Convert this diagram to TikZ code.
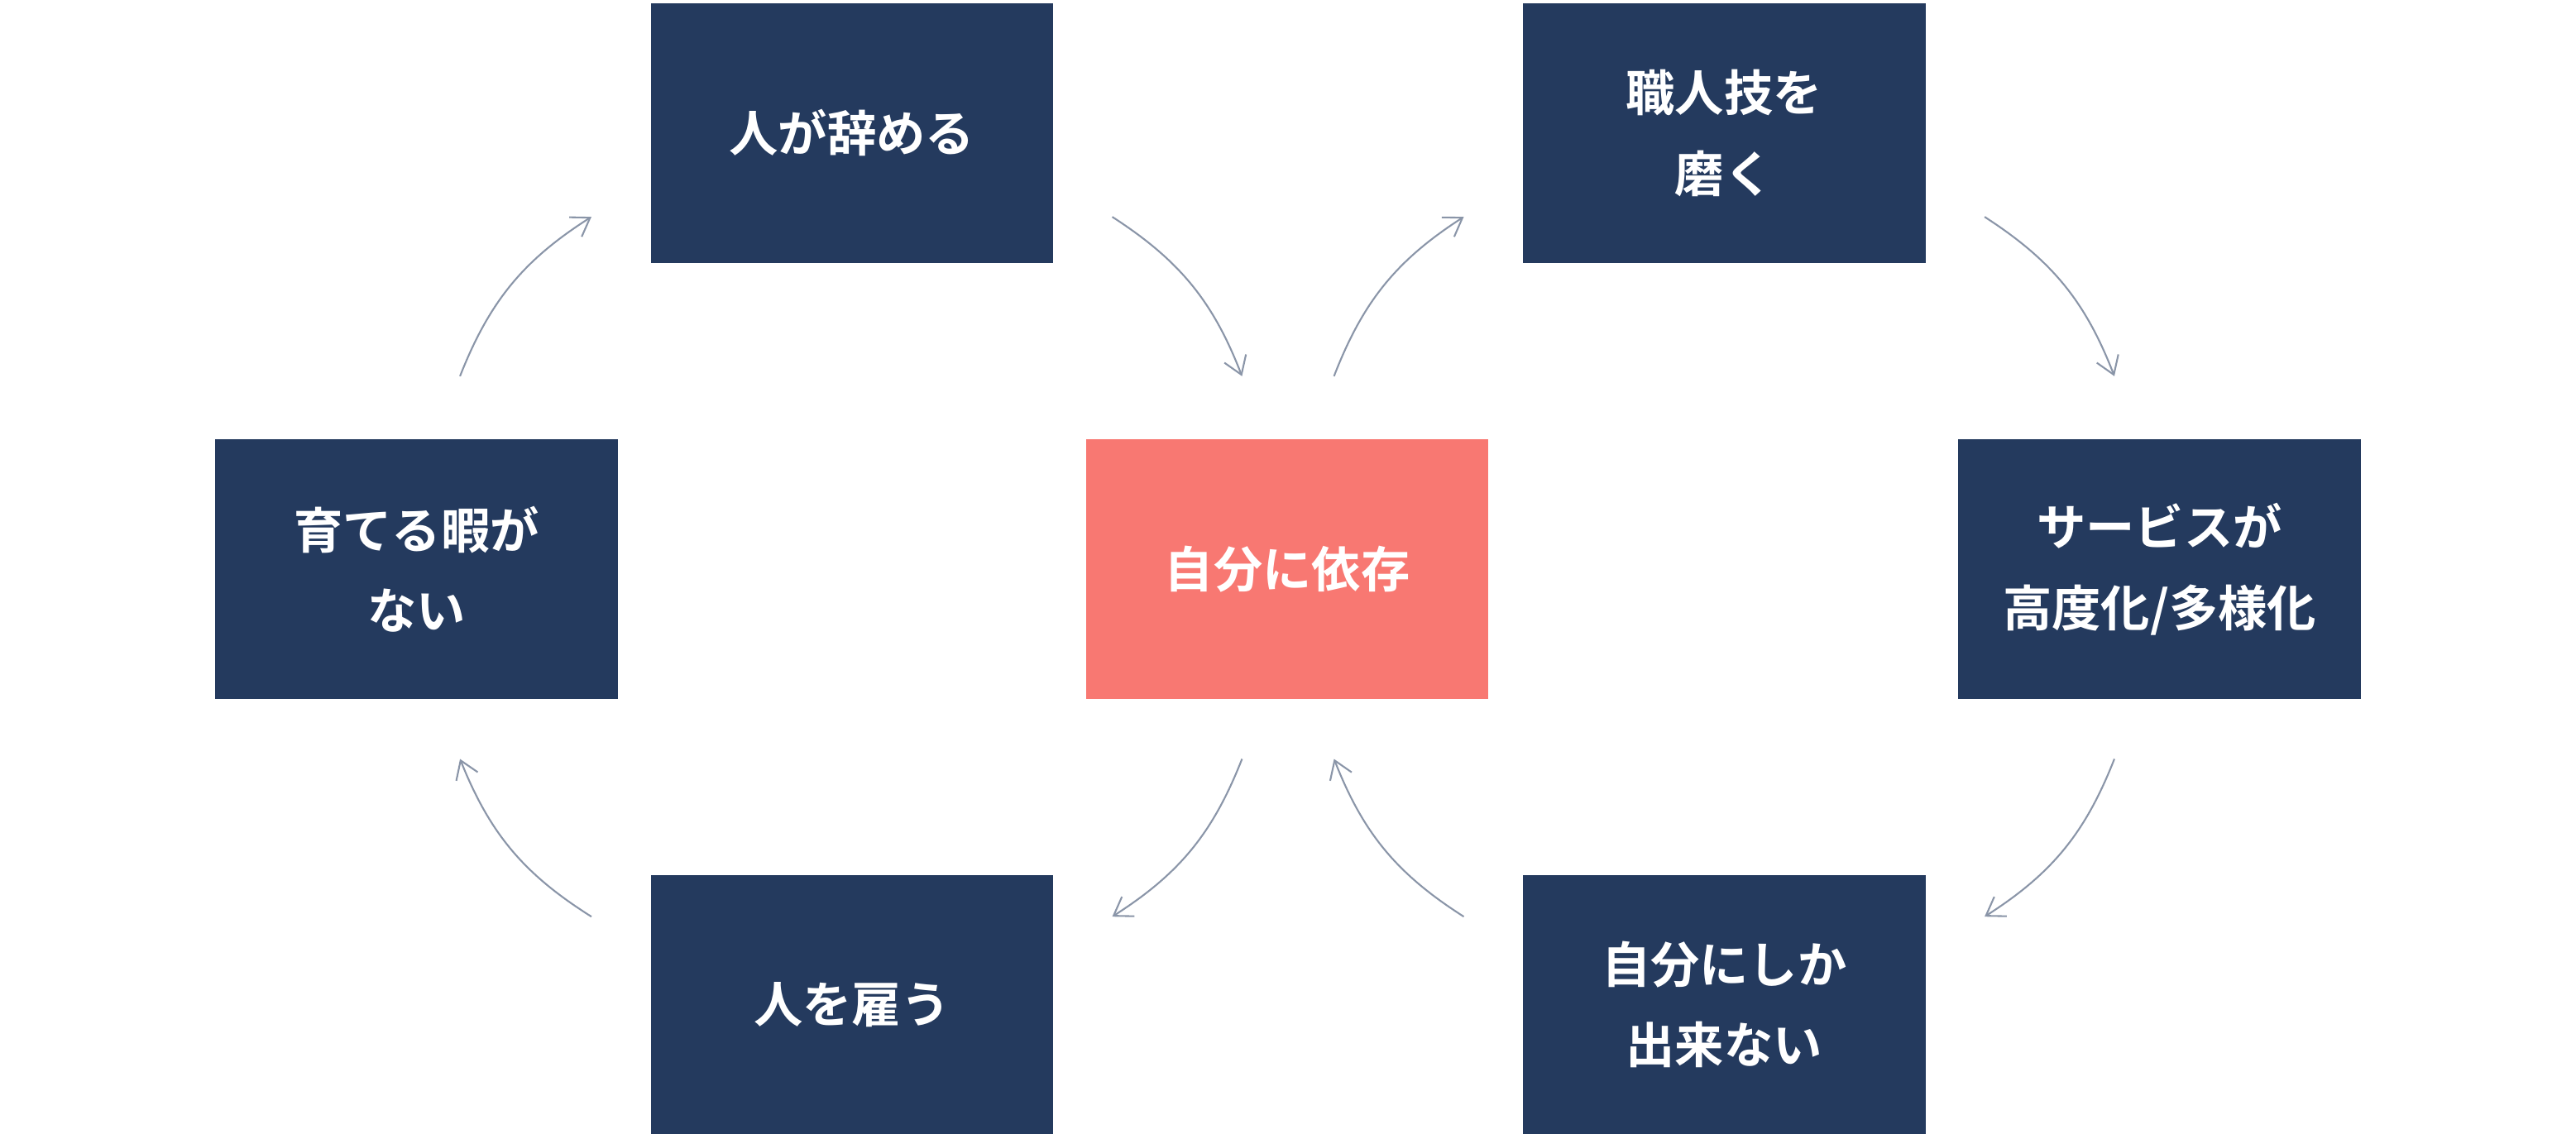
\documentclass[tikz,border=0pt]{standalone}
\usepackage{fontspec}
\setmainfont{Noto Sans CJK JP}[BoldFont={* Bold}]
\usetikzlibrary{arrows.meta}
\definecolor{navy}{HTML}{243A5E}
\definecolor{salmon}{HTML}{F87872}
\definecolor{arr}{HTML}{8A95A8}
\begin{document}
\begin{tikzpicture}[x=0.02cm,y=-0.02cm,
  box/.style={fill=navy,minimum width=4.9cm,minimum height=3.16cm,inner sep=0pt,text=white,font=\fontsize{17}{28}\selectfont\bfseries,align=center},
  ar/.style={draw=arr,line width=0.6pt,-{Straight Barb[length=6pt,width=8pt]},bend left=18}]
\useasboundingbox (0,0) rectangle (1568,693);
\node[box] (a) at (518.5,81) {人が辞める};
\node[box] (b) at (1049.5,81) {職人技を\\磨く};
\node[box] (c) at (253.5,346.5) {育てる暇が\\ない};
\node[box,fill=salmon] (d) at (783.5,346.5) {自分に依存};
\node[box] (e) at (1314.5,346.5) {サービスが\\高度化/多様化};
\node[box] (f) at (518.5,611.5) {人を雇う};
\node[box] (g) at (1049.5,611.5) {自分にしか\\出来ない};
\coordinate (p1) at (280,229); \coordinate (q1) at (360,132);
\coordinate (p2) at (677,132); \coordinate (q2) at (756,229);
\coordinate (p3) at (812,229); \coordinate (q3) at (891,132);
\coordinate (p4) at (1208,132); \coordinate (q4) at (1287,229);
\coordinate (p5) at (1287,462); \coordinate (q5) at (1208,558);
\coordinate (p6) at (891,558); \coordinate (q6) at (812,462);
\coordinate (p7) at (756,462); \coordinate (q7) at (677,558);
\coordinate (p8) at (360,558); \coordinate (q8) at (280,462);
\foreach \i in {1,...,8} \draw[ar] (p\i) to (q\i);
\end{tikzpicture}
\end{document}
